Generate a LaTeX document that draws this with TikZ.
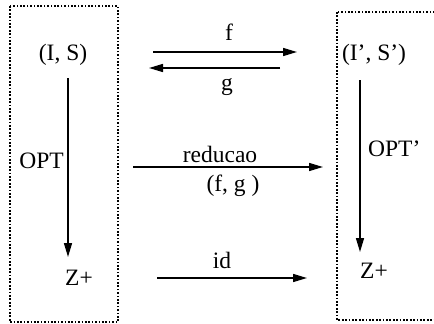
\documentclass[tikz,border=0pt]{standalone}
\usepackage{fontspec}
\setmainfont{Liberation Serif}
\usetikzlibrary{arrows.meta}
\begin{document}
\begin{tikzpicture}[x=1pt,y=-1pt,
  lbl/.style={inner sep=0pt,font=\fontsize{23.5}{27}\selectfont},
  arr/.style={line width=1.5pt,-{Triangle[length=14pt,width=8pt]}},
  frame/.style={line width=2.2pt,dash pattern=on 1.7pt off 1.7pt}]
\useasboundingbox (0,0) rectangle (434,324);
\clip (0,0) rectangle (434,324);
% frames
\draw[frame] (10,6) rectangle (118,322);
\draw[frame] (337,12) rectangle (445,320);
% texts
\node[lbl,anchor=base] (IS) at (63,60) {(I, S)};
\node[lbl,anchor=base] (ISp) at (374,60) {(I', S')};
\node[lbl,anchor=base] (Zl) at (79,285) {Z+};
\node[lbl,anchor=base] (Zr) at (374,278) {Z+};
\node[lbl,anchor=base east] (opt) at (64,168) {OPT};
\node[lbl,anchor=base west] (optp) at (368,156) {OPT'};
\node[lbl,anchor=base] (lf) at (229,40) {f};
\node[lbl,anchor=base] (lg) at (227,90) {g};
\node[lbl,anchor=base] (lred) at (220,162) {reducao};
\node[lbl,anchor=base] (lfg) at (233,191) {(f, g )};
\node[lbl,anchor=base] (lid) at (222,268) {id};
% arrow ends
\coordinate (fa) at (153,52);  \coordinate (fb) at (297,52);
\coordinate (ga) at (280,68);  \coordinate (gb) at (149,68);
\coordinate (ra) at (133,167); \coordinate (rb) at (323,167);
\coordinate (ia) at (157,278); \coordinate (ib) at (307,278);
\coordinate (oa) at (68,78);   \coordinate (ob) at (68,257);
\coordinate (pa) at (360,80);  \coordinate (pb) at (360,252);
% connectors
\draw[arr] (fa) -- (fb);
\draw[arr] (ga) -- (gb);
\draw[arr] (ra) -- (rb);
\draw[arr] (ia) -- (ib);
\draw[arr] (oa) -- (ob);
\draw[arr] (pa) -- (pb);
\end{tikzpicture}
\end{document}
